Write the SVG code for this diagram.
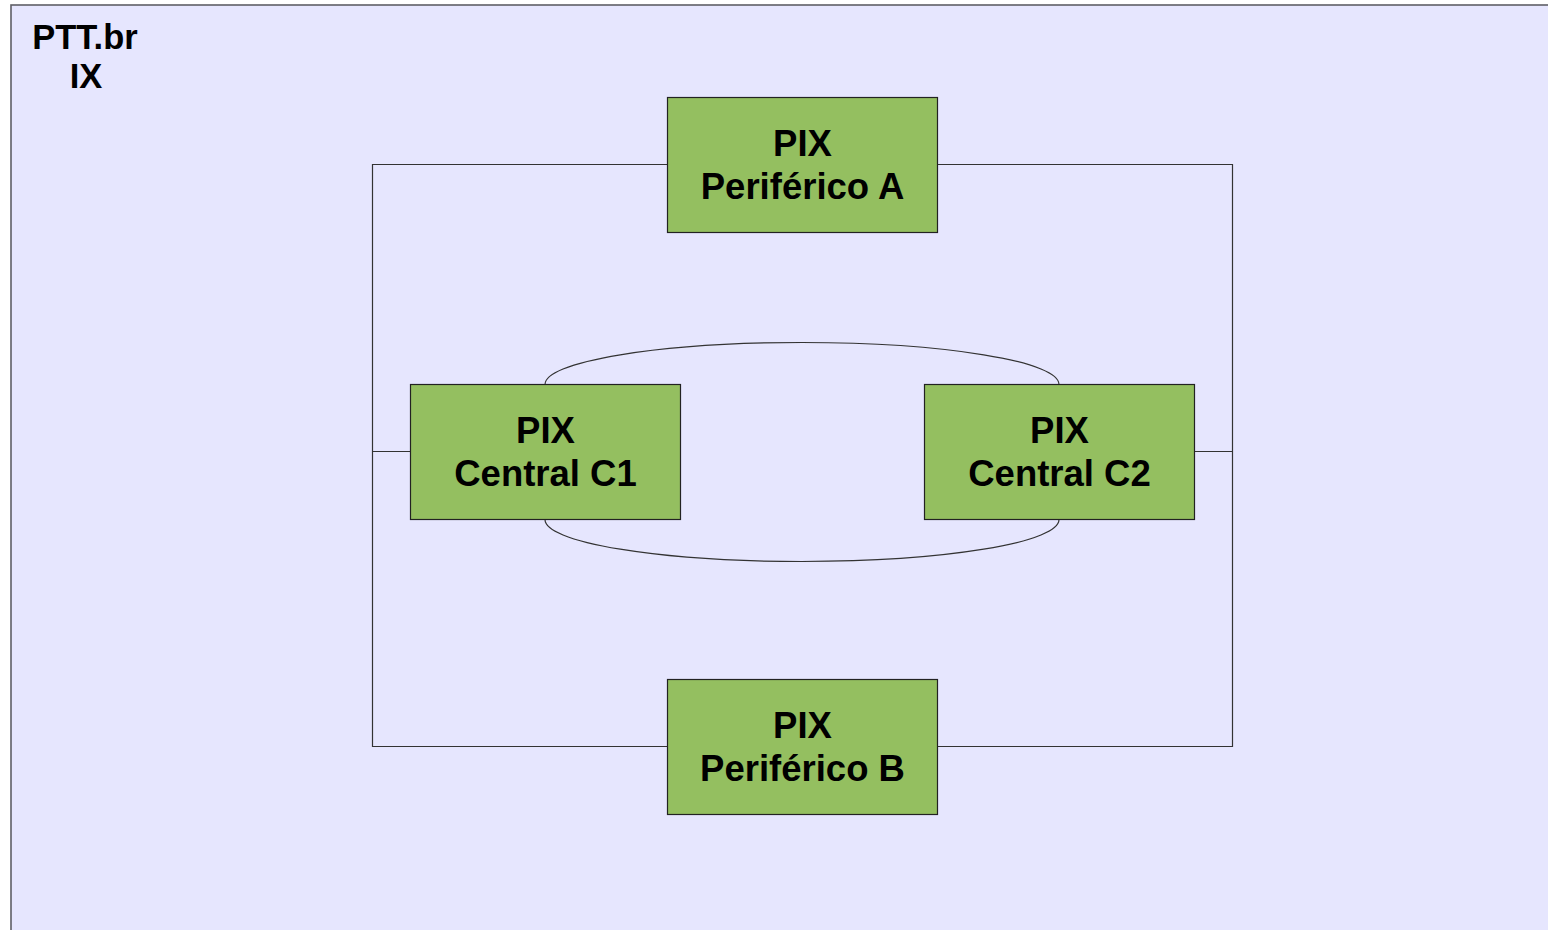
<svg xmlns="http://www.w3.org/2000/svg" width="1548" height="930" viewBox="0 0 1548 930">
<style>
.box{fill:#94BF60;stroke:#222;stroke-width:1.2}
.lbl{font-family:"Liberation Sans",Arial,sans-serif;font-weight:bold;font-size:36.5px;fill:#000;text-anchor:middle}
.title{font-family:"Liberation Sans",Arial,sans-serif;font-weight:bold;font-size:34.5px;fill:#000;text-anchor:middle}
.wire{fill:none;stroke:#333;stroke-width:1.2}
</style>
<rect x="0" y="0" width="1548" height="930" fill="#ffffff"/>
<g id="ix">
<rect x="11" y="5" width="1560" height="950" fill="#E6E6FE" stroke="#5f5f66" stroke-width="1.6"/>
<text class="title" x="85" y="49">PTT.br</text>
<text class="title" x="86" y="88">IX</text>
</g>
<g id="connectors">
<path class="wire" d="M667.5,164.5 H372.5 V746.5 H667.5"/>
<path class="wire" d="M937.5,164.5 H1232.5 V746.5 H937.5"/>
<path class="wire" d="M372.5,451.5 H410.5"/>
<path class="wire" d="M1194.5,451.5 H1232.5"/>
<path class="wire" d="M545,384.5 A257,42 0 0 1 1059,384.5"/>
<path class="wire" d="M545,519.5 A257,42 0 0 0 1059,519.5"/>
</g>
<g id="pixA">
<rect class="box" x="667.5" y="97.5" width="270" height="135"/>
<text class="lbl" x="802.5" y="156">PIX</text>
<text class="lbl" x="802.5" y="199">Periférico A</text>
</g>
<g id="pixC1">
<rect class="box" x="410.5" y="384.5" width="270" height="135"/>
<text class="lbl" x="545.5" y="443">PIX</text>
<text class="lbl" x="545.5" y="486">Central C1</text>
</g>
<g id="pixC2">
<rect class="box" x="924.5" y="384.5" width="270" height="135"/>
<text class="lbl" x="1059.5" y="443">PIX</text>
<text class="lbl" x="1059.5" y="486">Central C2</text>
</g>
<g id="pixB">
<rect class="box" x="667.5" y="679.5" width="270" height="135"/>
<text class="lbl" x="802.5" y="738">PIX</text>
<text class="lbl" x="802.5" y="781">Periférico B</text>
</g>
</svg>
